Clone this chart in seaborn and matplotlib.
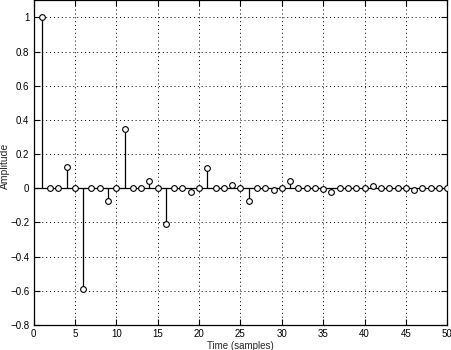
import numpy as np
import pandas as pd
import matplotlib
matplotlib.use("Agg")
import matplotlib.pyplot as plt
import seaborn as sns

time_samples = list(range(1, 51))
amplitude = [
    1.0, 0.0, 0.0, 0.127, 0.0, -0.59, 0.0, 0.0, -0.074, 0.0,
    0.347, 0.0, 0.0, 0.043, 0.0, -0.207, 0.0, 0.0, -0.022, 0.0,
    0.12, 0.0, 0.0, 0.019, 0.0, -0.072, 0.0, 0.0, -0.01, 0.0,
    0.045, 0.0, 0.0, 0.0, -0.004, -0.022, 0.0, 0.0, 0.0, 0.0,
    0.015, 0.0, 0.0, 0.0, 0.0, -0.008, 0.0, 0.0, 0.0, 0.0,
]
x_ticks = [0, 5, 10, 15, 20, 25, 30, 35, 40, 45, 50]
y_ticks = [-0.8, -0.6, -0.4, -0.2, 0, 0.2, 0.4, 0.6, 0.8, 1]
y_tick_labels = ["\u22120.8", "\u22120.6", "\u22120.4", "\u22120.2", "0", "0.2", "0.4", "0.6", "0.8", "1"]

df = pd.DataFrame({"n": time_samples, "amp": amplitude})

sns.set_style("white")
plt.rcParams['font.family'] = ['Liberation Sans', 'DejaVu Sans']

fig = plt.figure(figsize=(4.52, 3.5), dpi=100)
ax = fig.add_axes([33.5 / 452, 1 - 325 / 350, (447.3 - 33.5) / 452, (325 - 0.3) / 350])

ax.axhline(0, color="black", lw=0.9, zorder=2)
ax.vlines(df["n"], 0, df["amp"], color="black", lw=0.9, zorder=2)
sns.scatterplot(data=df, x="n", y="amp", ax=ax, marker="o", s=17,
                facecolor="white", edgecolor="black", linewidth=0.8, zorder=3,
                legend=False)

ax.set_xlim(0, 50)
ax.set_ylim(-0.8, 1.1)
ax.set_xticks(x_ticks)
ax.set_xticklabels([str(t) for t in x_ticks])
ax.set_yticks(y_ticks)
ax.set_yticklabels(y_tick_labels)
ax.grid(True, color="black", linestyle=(0, (1, 3)), linewidth=0.7)
ax.set_axisbelow(True)
ax.tick_params(direction="in", length=4, width=0.8, labelsize=7, colors="black",
               top=True, right=True, bottom=True, left=True, pad=3)
for s in ax.spines.values():
    s.set_color("black")
    s.set_linewidth(0.9)
    s.set_visible(True)

ax.set_xlabel("Time (samples)", fontsize=7, labelpad=1)
ax.set_ylabel("Amplitude", fontsize=7.5)
ax.yaxis.set_label_coords(-0.058, 0.49)

fig.savefig("out.png", dpi=100)
